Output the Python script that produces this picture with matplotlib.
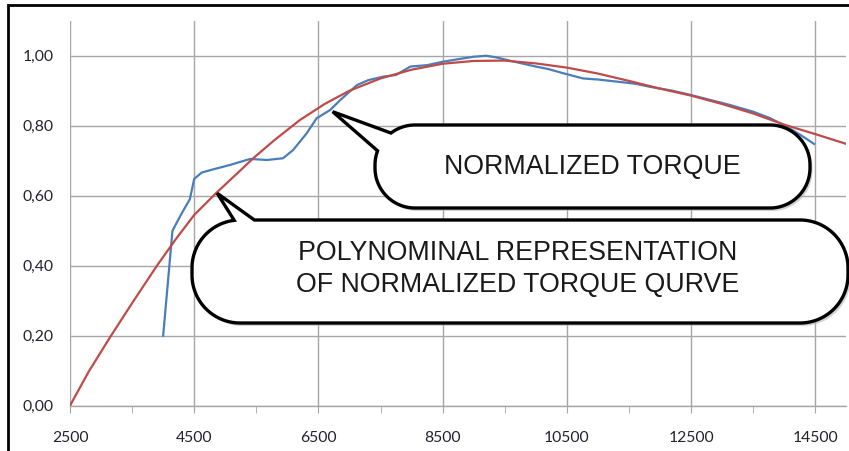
import numpy as np
import matplotlib
matplotlib.use("Agg")
import matplotlib.pyplot as plt
from matplotlib.patches import Polygon

# ===============================
# DATA
# ===============================
torque_rpm = [4000, 4150, 4300, 4430, 4500, 4620, 4800, 5080, 5400, 5670,
              5930, 6090, 6310, 6470, 6690, 6850, 7120, 7300, 7540, 7750,
              7980, 8250, 8510, 8750, 9000, 9200, 9370, 9600, 10000, 10200,
              10440, 10760, 11000, 11300, 11600, 11840, 12200, 12490, 12800,
              13130, 13500, 13780, 14040, 14250, 14480]
torque_val = [0.20, 0.50, 0.55, 0.59, 0.648, 0.666, 0.675, 0.688, 0.705, 0.702,
              0.707, 0.73, 0.778, 0.821, 0.845, 0.873, 0.916, 0.93, 0.94, 0.945,
              0.969, 0.973, 0.983, 0.99, 0.997, 1.0, 0.995, 0.985, 0.969, 0.962,
              0.95, 0.935, 0.932, 0.926, 0.92, 0.911, 0.90, 0.888, 0.874,
              0.859, 0.84, 0.821, 0.797, 0.775, 0.748]

poly_rpm = [2500, 2800, 3150, 3500, 3900, 4200, 4500, 4850, 5200, 5450,
            5800, 6200, 6600, 7000, 7500, 8000, 8500, 9000, 9500, 10000,
            10500, 11000, 11500, 12000, 12500, 13000, 13500, 14000, 14500, 15000]
poly_val = [0.000, 0.097, 0.197, 0.293, 0.400, 0.475, 0.545, 0.607, 0.665, 0.707,
            0.760, 0.816, 0.862, 0.900, 0.935, 0.960, 0.977, 0.985, 0.986, 0.978,
            0.966, 0.949, 0.928, 0.906, 0.886, 0.862, 0.835, 0.803, 0.776, 0.748]

x_ticks = [2500, 4500, 6500, 8500, 10500, 12500, 14500]
y_ticks = [0.0, 0.2, 0.4, 0.6, 0.8, 1.0]

label_torque = "NORMALIZED TORQUE"
label_poly = "POLYNOMINAL REPRESENTATION\nOF NORMALIZED TORQUE QURVE"

BLUE = "#4a7ebb"
RED = "#be4b48"
GRID = "#a6a6a6"
TICK_TXT = "#23232e"

W, H = 849, 451

# ===============================
# HELPERS
# ===============================
def rounded_rect(x0, y0, x1, y1, r, n=40):
    # clockwise on screen (y down), starting at left middle
    pts = []
    corners = [((x0 + r, y0 + r), 180, 270),
               ((x1 - r, y0 + r), 270, 360),
               ((x1 - r, y1 - r), 0, 90),
               ((x0 + r, y1 - r), 90, 180)]
    for (cx, cy), a0, a1 in corners:
        th = np.radians(np.linspace(a0, a1, n))
        arc = np.column_stack([cx + r * np.cos(th), cy + r * np.sin(th)])
        if pts:
            pts.append(np.linspace(pts[-1][-1], arc[0], n))
        pts.append(arc)
    pts.append(np.linspace(pts[-1][-1], pts[0][0], n))
    return np.vstack(pts)


def bubble(x0, y0, x1, y1, r, base_lo, base_hi, tip):
    per = rounded_rect(x0, y0, x1, y1, r)
    i_lo = np.argmin(np.hypot(per[:, 0] - base_lo[0], per[:, 1] - base_lo[1]))
    i_hi = np.argmin(np.hypot(per[:, 0] - base_hi[0], per[:, 1] - base_hi[1]))
    return np.vstack([per[:i_lo + 1], [tip], per[i_hi:]])


def to_px(ax, x, y):
    dx, dy = ax.transData.transform((x, y))
    return (dx, H - dy)


# ===============================
# PLOT
# ===============================
plt.rcParams['font.family'] = ['Lato', 'DejaVu Sans']
fig = plt.figure(figsize=(W / 100, H / 100), dpi=100)
ax = fig.add_axes([70 / W, 45.3 / H, 776.3 / W, 385 / H])

ax.plot(torque_rpm, torque_val, color=BLUE, lw=1.6, zorder=3)
ax.plot(poly_rpm, poly_val, color=RED, lw=1.6, zorder=4)

ax.set_xlim(2500, 15000)
ax.set_ylim(0, 1.1)
ax.set_xticks(x_ticks)
ax.set_xticks([t + 1000 for t in x_ticks[:-1]], minor=True)
ax.set_yticks(y_ticks)
ax.set_yticklabels([f"{v:.2f}".replace(".", ",") for v in y_ticks])
ax.grid(True, which='major', color=GRID, lw=1.0)
ax.set_axisbelow(True)
for s in ['top', 'right', 'left']:
    ax.spines[s].set_visible(False)
ax.spines['bottom'].set_color(GRID)
ax.spines['bottom'].set_linewidth(1.0)
ax.tick_params(axis='x', which='both', direction='out', length=5, color=GRID,
               pad=13, labelsize=11.3, labelcolor=TICK_TXT)
ax.tick_params(axis='y', length=0, pad=12, labelsize=11.3, labelcolor=TICK_TXT)

# overlay for the callouts, in pixel units
ov = fig.add_axes([0, 0, 1, 1], zorder=10)
ov.set_xlim(0, W)
ov.set_ylim(H, 0)
ov.axis('off')
ov.patch.set_alpha(0)

tip1 = to_px(ax, 6730, 0.84)
tip2 = to_px(ax, 4870, 0.607)

b1 = bubble(375, 125, 810, 208, 40, (377, 151), (390, 133), tip1)
b2 = bubble(192, 220, 848, 323, 48, (235, 222), (257, 220), tip2)

for b in (b2, b1):
    ov.add_patch(Polygon(b + [2.5, 3], closed=True, fc='#b5b5b5', ec='none',
                         alpha=0.6))
    ov.add_patch(Polygon(b, closed=True, fc='white', ec='black', lw=2.4,
                         joinstyle='miter'))

ov.text(592, 167, label_torque, ha='center', va='center', fontsize=19.3,
        family=['Liberation Sans', 'DejaVu Sans'], color='#1a1a1a')
ov.text(518, 269, label_poly, ha='center', va='center', fontsize=19.3,
        family=['Liberation Sans', 'DejaVu Sans'], color='#1a1a1a',
        linespacing=1.28)

# outer frame (left and top edges)
ov.plot([8, 8, W], [H, 5, 5], color='black', lw=2, solid_joinstyle='miter')

fig.savefig("out.png", dpi=100)
